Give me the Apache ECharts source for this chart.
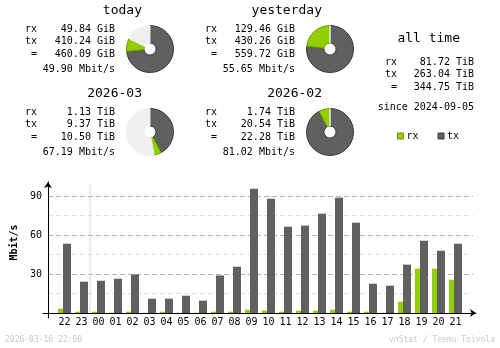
<!DOCTYPE html>
<html><head><meta charset="utf-8">
<script src="https://cdn.jsdelivr.net/npm/echarts@6/dist/echarts.min.js"></script>
<style>html,body{margin:0;padding:0;background:#fff}#c{width:500px;height:348px}</style>
</head><body><div id="c"></div>
<script>
// ---- data ----
const hours = ['22','23','00','01','02','03','04','05','06','07','08','09','10','11','12','13','14','15','16','17','18','19','20','21'];
const rxMbit = [3.3,1.0,1.0,0.3,1.0,0.2,1.0,0.2,0.2,1.0,1.0,2.5,1.8,1.0,1.8,1.8,2.5,1.0,1.0,0.2,8.7,34.1,34.1,25.6];
const txMbit = [53.3,24.1,24.8,26.4,29.7,11.0,11.0,13.3,9.5,28.9,35.6,95.6,87.9,66.4,67.2,76.4,88.7,69.5,22.5,21.0,37.2,55.6,47.9,53.3];
const yTickLabels = [30, 60, 90];
const dayStart = '00';
const periods = ['today','yesterday','2026-03','2026-02'];
const periodRx = [49.84,129.46,1.13,1.74];
const periodTx = [410.24,430.26,9.37,20.54];
const periodTotal = [460.09,559.72,10.50,22.28];
const periodUnit = ['GiB','GiB','TiB','TiB'];
const periodRate = [49.90,55.65,67.19,81.02];
const pieFull = [559.72,559.72,22.28,22.28];
const allTimeLabel = 'all time';
const allTimeRx = 81.72, allTimeTx = 263.04, allTimeTotal = 344.75, allTimeUnit = 'TiB';
const since = '2024-09-05';
const generated = '2026-03-16 22:00';
const credit = 'vnStat / Teemu Toivola';
const yName = 'Mbit/s';

// ---- style ----
const MONO = '"DejaVu Sans Mono", "Liberation Mono", monospace';
const RX = '#92cf00', TX = '#606060', REST = '#efefef';
const RXB = '#6a9a00', TXB = '#3a3a3a';
const YMAX = 132 / 1.3;

const blocks = [
  {lx:25, vr:115, tr:142, y:0, cx:150, cy:49},
  {lx:205, vr:295, tr:322, y:0, cx:330, cy:49},
  {lx:25, vr:115, tr:142, y:83, cx:150, cy:132},
  {lx:205, vr:295, tr:322, y:83, cx:330, cy:132}
];
const rowY = [29, 41.5, 54, 69];

const graphics = [];
function txt(x, y, s, align, font, fill, extra) {
  graphics.push(Object.assign({type:'text', x:x, y:y, silent:true,
    style:{text:s, font:font, fill:fill||'#000', align:align, verticalAlign:'middle'}}, extra||{}));
}
const F10 = '10px ' + MONO, F13 = '13px ' + MONO;
periods.forEach((p, i) => {
  const b = blocks[i];
  txt(b.tr, b.y + 10.5, p, 'right', F13);
  const labels = ['rx','tx','='];
  const vals = [periodRx[i], periodTx[i], periodTotal[i]];
  labels.forEach((l, k) => {
    txt(b.lx + (l === '=' ? 6 : 0), b.y + rowY[k], l, 'left', F10);
    txt(b.vr, b.y + rowY[k], vals[k].toFixed(2) + ' ' + periodUnit[i], 'right', F10);
  });
  txt(b.vr, b.y + rowY[3], periodRate[i].toFixed(2) + ' Mbit/s', 'right', F10);
});
txt(460, 39, allTimeLabel, 'right', F13);
[['rx', allTimeRx], ['tx', allTimeTx], ['=', allTimeTotal]].forEach((r, k) => {
  txt(385 + (r[0] === '=' ? 6 : 0), 62.5 + k * 12.3, r[0], 'left', F10);
  txt(474, 62.5 + k * 12.3, r[1].toFixed(2) + ' ' + allTimeUnit, 'right', F10);
});
txt(474, 107, 'since ' + since, 'right', F10);
txt(5, 340, generated, 'left', '8px ' + MONO, '#c8c8c8');
txt(495, 340, credit, 'right', '8px ' + MONO, '#c8c8c8');
txt(14.5, 242.5, yName, 'center', 'bold 10px ' + MONO, '#000', {rotation: Math.PI / 2});

const pies = periods.map((p, i) => ({
  type:'pie', center:[blocks[i].cx, blocks[i].cy], radius:[6, 23.5],
  startAngle:90, clockwise:true, silent:true, animation:false,
  label:{show:false}, labelLine:{show:false}, emphasis:{disabled:true},
  data:[
    {name:'tx', value:periodTx[i], itemStyle:{color:TX, borderColor:TXB, borderWidth:1}},
    {name:'rx', value:periodRx[i], itemStyle:{color:RX, borderColor:RXB, borderWidth:1}},
    {name:'rest', value:Math.max(0, pieFull[i] - periodTotal[i]), itemStyle:{color:REST, borderColor:REST, borderWidth:1}}
  ]
}));

const boundary = hours.indexOf(dayStart) - 0.5;

const option = {
  animation:false,
  backgroundColor:'#fff',
  graphic: graphics,
  legend:{
    data:[{name:'rx', itemStyle:{borderColor:RXB, borderWidth:1}}, {name:'tx', itemStyle:{borderColor:TXB, borderWidth:1}}],
    left:397, top:131, icon:'rect', itemWidth:6, itemHeight:6, itemGap:19, padding:0,
    selectedMode:false,
    textStyle:{fontFamily:MONO, fontSize:10, color:'#000', padding:[0,0,0,-2]}
  },
  grid:[
    {left:43, top:182, width:433, height:136, outerBoundsMode:'none', containLabel:false},
    {left:48, top:181, width:425, height:132, outerBoundsMode:'none', containLabel:false},
    {left:56, top:181, width:408, height:132, outerBoundsMode:'none', containLabel:false}
  ],
  xAxis:[
    {type:'value', gridIndex:0, min:-5, max:428, axisLine:{onZero:true, symbol:['none','arrow'], symbolSize:[6,6], lineStyle:{color:'#000', width:1}},
      axisTick:{show:false}, axisLabel:{show:false}, splitLine:{show:false}},
    {type:'value', gridIndex:1, min:0, max:1, show:false},
    {type:'category', gridIndex:2, data:hours, axisLine:{show:false}, axisTick:{show:false},
      axisLabel:{interval:0, margin:4, fontFamily:MONO, fontSize:10, color:'#000'}},
    {type:'value', gridIndex:2, min:-0.5, max:hours.length - 0.5, show:false}
  ],
  yAxis:[
    {type:'value', gridIndex:0, min:-5, max:131, axisLine:{show:true, onZero:true, symbol:['none','arrow'], symbolSize:[6,6], lineStyle:{color:'#000', width:1}},
      axisTick:{show:false}, axisLabel:{show:false}, splitLine:{show:false}},
    {type:'value', gridIndex:1, min:0, max:YMAX, interval:30,
      axisLine:{show:false}, axisTick:{show:false},
      axisLabel:{margin:6, fontFamily:MONO, fontSize:10, color:'#000', showMaxLabel:false, showMinLabel:false,
        formatter:v => yTickLabels.indexOf(v) >= 0 ? String(v) : ''},
      splitLine:{show:true, showMinLine:false, showMaxLine:false, lineStyle:{color:'#b0b0b0', type:[5,3], width:1}},
      minorTick:{show:false, splitNumber:2},
      minorSplitLine:{show:true, lineStyle:{color:'#e0e0e0', type:[5,3], width:1}}},
    {type:'value', gridIndex:2, min:0, max:YMAX, show:false}
  ],
  series:[
    {name:'rx', type:'bar', xAxisIndex:2, yAxisIndex:2, data:rxMbit, barWidth:5, barGap:0, itemStyle:{color:RX}, silent:true},
    {name:'tx', type:'bar', xAxisIndex:2, yAxisIndex:2, data:txMbit, barWidth:8, barGap:0, itemStyle:{color:TX}, silent:true},
    {type:'line', xAxisIndex:3, yAxisIndex:2, data:[[boundary, 0], [boundary, 99]], symbol:'none', silent:true,
      lineStyle:{color:'#d8d8d8', width:1}, z:1},
    {type:'scatter', xAxisIndex:0, yAxisIndex:0, data:[], silent:true}
  ].concat(pies)
};
const chart = echarts.init(document.getElementById('c'), null, {renderer:'canvas'});
chart.setOption(option);
</script>
</body></html>
